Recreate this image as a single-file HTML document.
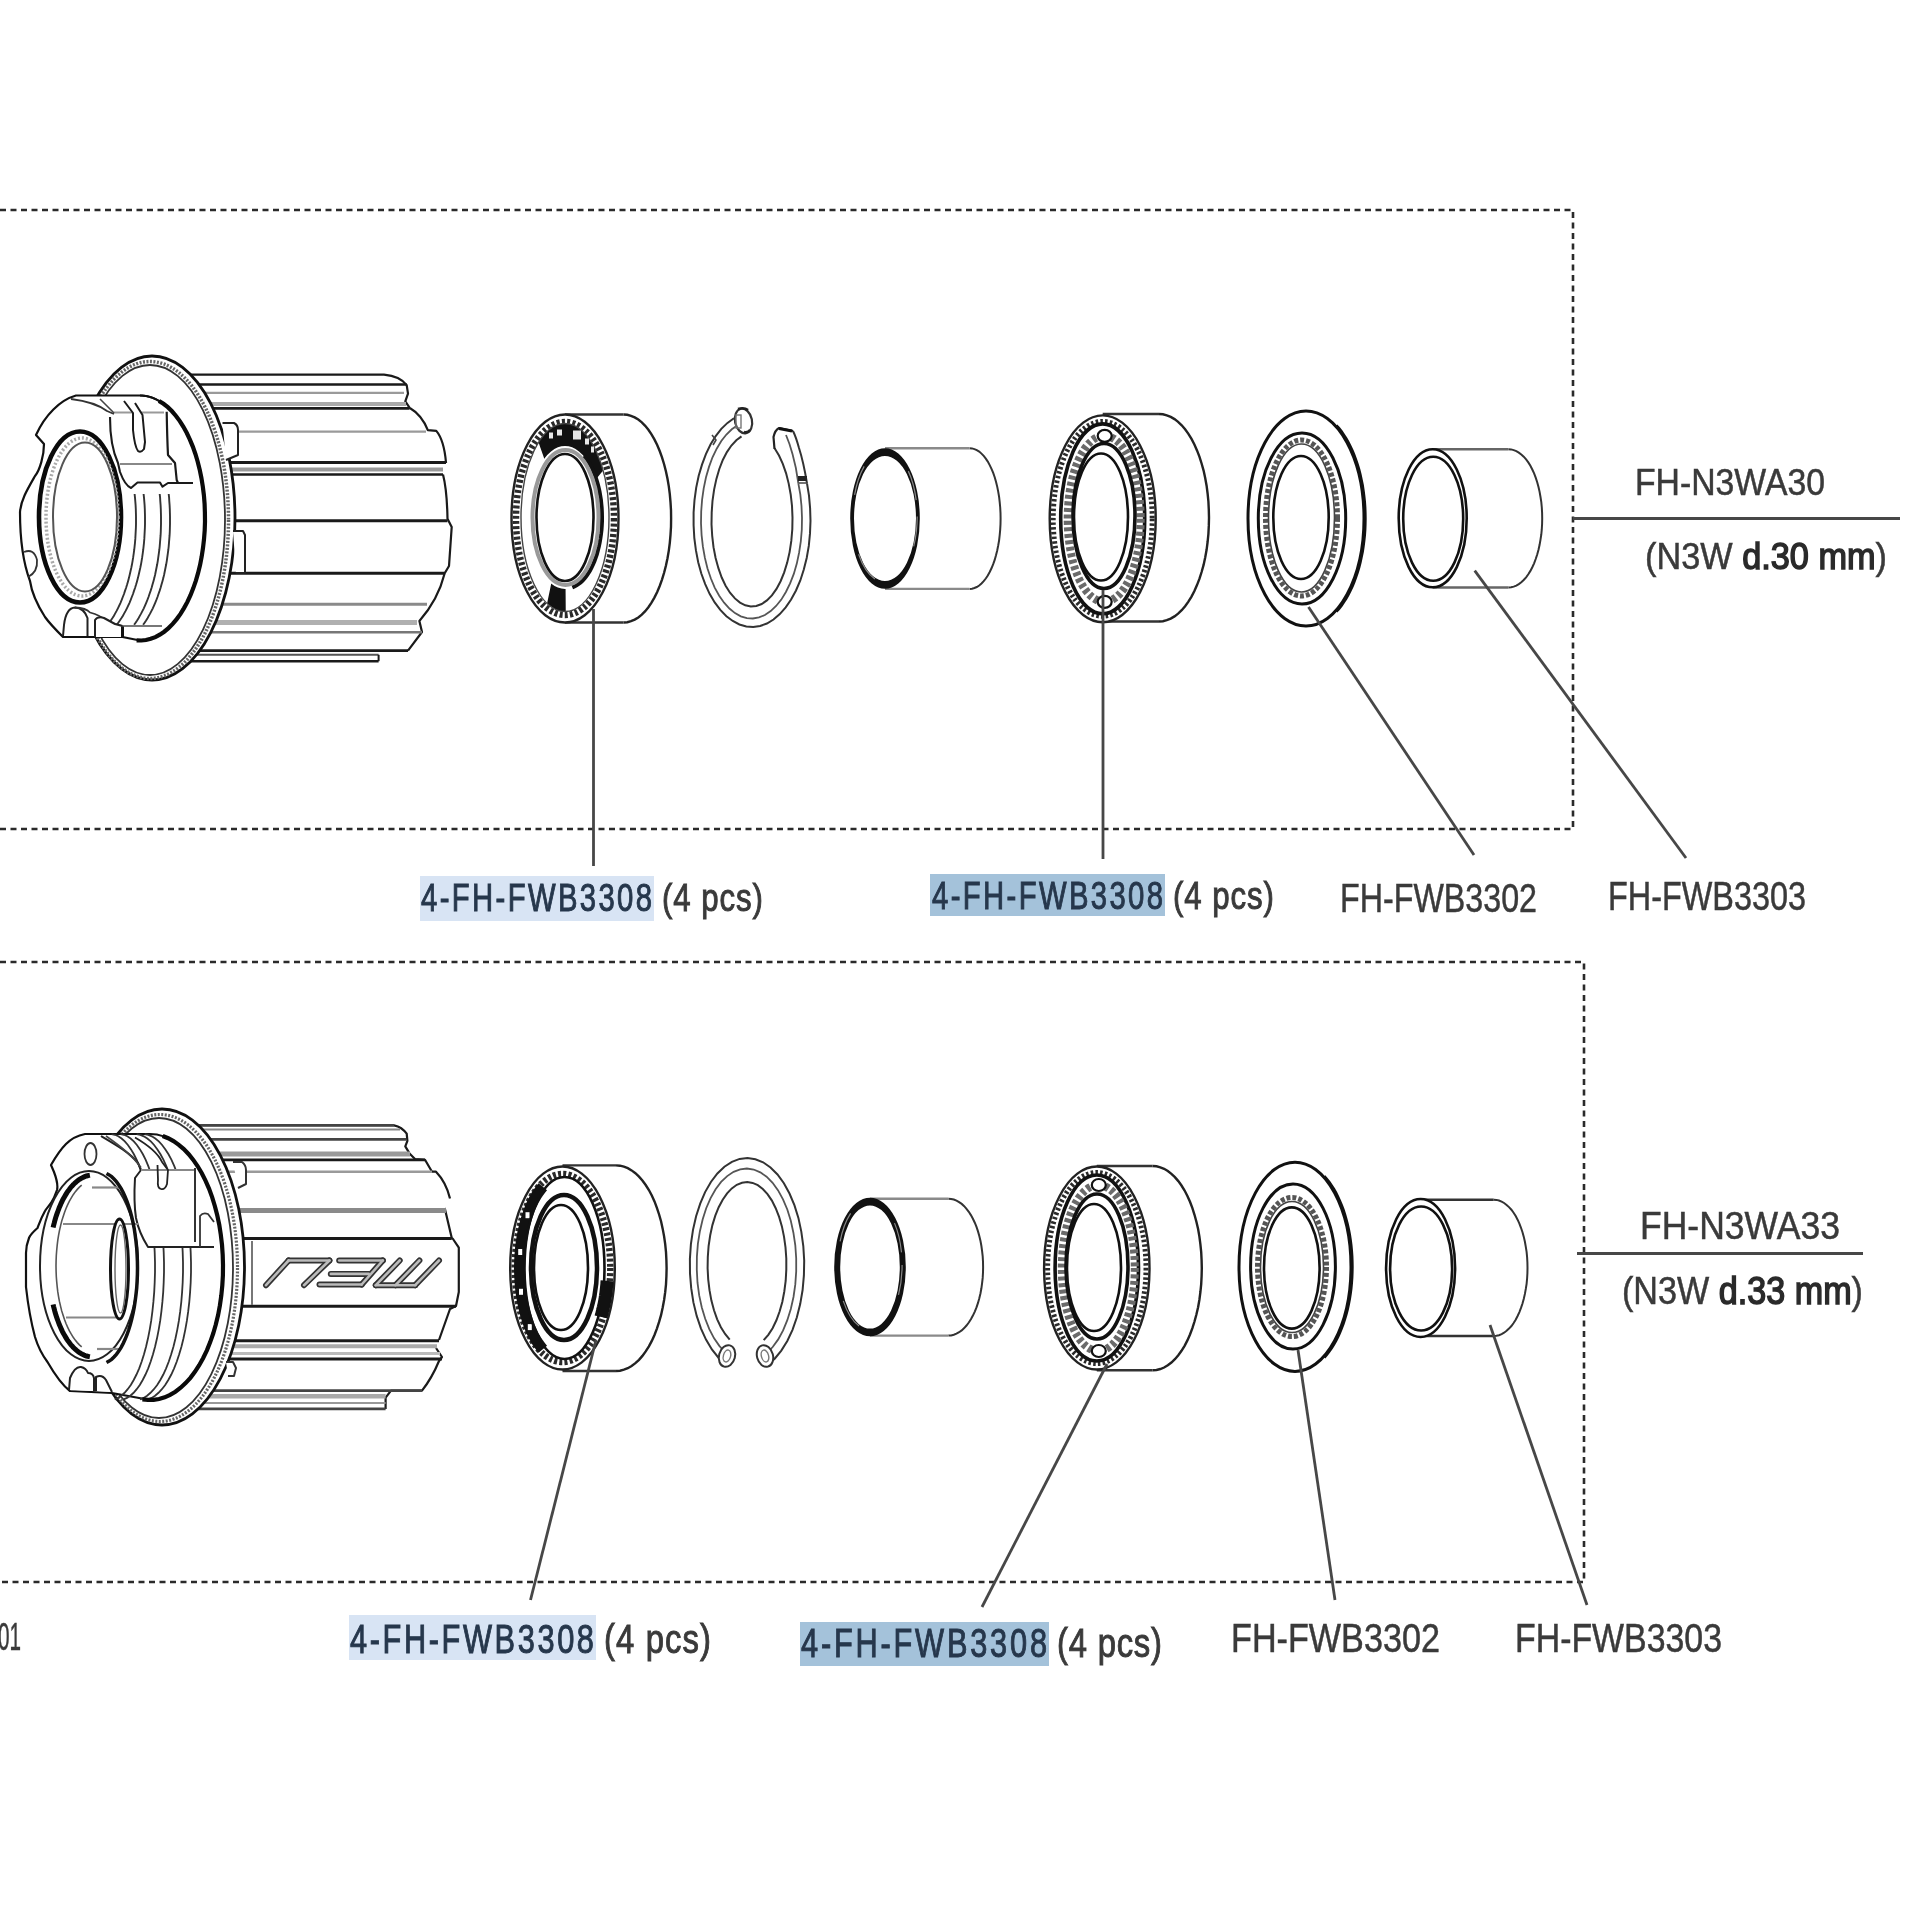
<!DOCTYPE html>
<html><head><meta charset="utf-8"><style>
html,body{margin:0;padding:0;background:#fff;width:1920px;height:1920px;overflow:hidden}
svg{display:block}
#wrap{width:1920px;height:1920px;will-change:transform}
text{font-family:"Liberation Sans",sans-serif}
.t{font-size:39px;fill:#3a3a3a;stroke:#3a3a3a;stroke-width:0.5}
.th{font-size:39px;fill:#26374c;stroke:#26374c;stroke-width:0.5}
.d{stroke-width:1.0}
.b{stroke-width:1.5;fill:#2a2a2a;stroke:#2a2a2a}
.dash{fill:none;stroke:#2a2a2a;stroke-width:2.6;stroke-dasharray:6 4.5}
.ld{fill:none;stroke:#474747;stroke-width:2.8}
.k{fill:none;stroke:#111;stroke-width:2.4}
.kw{fill:#fff;stroke:#111;stroke-width:2.4}
.g{fill:none;stroke:#666;stroke-width:2}
</style></head><body>
<div id="wrap"><svg width="1920" height="1920" viewBox="0 0 1920 1920">
<rect width="1920" height="1920" fill="#fff"/>

<path d="M180,374.6 H384 Q400,376 406.7,385.2 L408,393.6 L405.3,401.3 L409.5,407.7 Q422,415 427.8,430.2 L436.3,430.9 Q444,440 446,462.5 L446,463 M443,474.5 Q447,490 447.5,518.7 L451.7,527 L449,566 L444.7,573.3 Q438,600 419.4,621 L422,632 L408,650.6" fill="none" stroke="#1a1a1a" stroke-width="2.2" stroke-linejoin="round" />
<line x1="180.0" y1="384.5" x2="406.7" y2="384.5" stroke="#1a1a1a" stroke-width="2.6" />
<line x1="180.0" y1="392.9" x2="404.0" y2="392.9" stroke="#9a9a9a" stroke-width="2.2" />
<line x1="180.0" y1="404.0" x2="406.0" y2="404.0" stroke="#aaa" stroke-width="4" />
<line x1="180.0" y1="408.4" x2="409.5" y2="408.4" stroke="#1a1a1a" stroke-width="2.6" />
<line x1="180.0" y1="431.6" x2="426.0" y2="431.6" stroke="#9a9a9a" stroke-width="2.4" />
<line x1="180.0" y1="462.5" x2="446.0" y2="462.5" stroke="#1a1a1a" stroke-width="3" />
<line x1="180.0" y1="469.5" x2="443.0" y2="469.5" stroke="#999" stroke-width="4" />
<line x1="180.0" y1="474.5" x2="443.0" y2="474.5" stroke="#1a1a1a" stroke-width="2.6" />
<line x1="180.0" y1="520.7" x2="447.5" y2="520.7" stroke="#1a1a1a" stroke-width="3" />
<line x1="180.0" y1="573.3" x2="444.7" y2="573.3" stroke="#1a1a1a" stroke-width="3" />
<line x1="180.0" y1="604.2" x2="427.0" y2="604.2" stroke="#8a8a8a" stroke-width="3" />
<line x1="180.0" y1="622.5" x2="417.0" y2="622.5" stroke="#b0b0b0" stroke-width="5" />
<line x1="180.0" y1="632.3" x2="422.0" y2="632.3" stroke="#777" stroke-width="2.4" />
<line x1="180.0" y1="650.6" x2="408.0" y2="650.6" stroke="#1a1a1a" stroke-width="2.6" />
<line x1="180.0" y1="654.8" x2="378.6" y2="654.8" stroke="#555" stroke-width="2" />
<line x1="180.0" y1="661.2" x2="378.6" y2="661.2" stroke="#1a1a1a" stroke-width="2.4" />
<line x1="378.6" y1="654.8" x2="378.6" y2="661.2" stroke="#1a1a1a" stroke-width="2" />
<ellipse cx="152.0" cy="518.0" rx="83.0" ry="162.0" fill="#fff" stroke="#111" stroke-width="2.8" />
<ellipse cx="150.0" cy="520.0" rx="78.5" ry="158.5" fill="none" stroke="#666" stroke-width="3.5" stroke-dasharray="2 1.5"/>
<ellipse cx="150.0" cy="520.0" rx="75.0" ry="155.0" fill="none" stroke="#333" stroke-width="1.8" />
<path d="M222.5,423 L234,423 Q238,425 238,430 L238,455 L226,460" fill="#fff" stroke="#222" stroke-width="2" stroke-linejoin="round" />
<path d="M233,531 L243,531 L245,535 L245,573 L236,573" fill="#fff" stroke="#222" stroke-width="2" stroke-linejoin="round" />
<path d="M76,395.5 H140 A65,122.5 0 0 1 140,640.5 L122.5,637 L63,637 C56,630 50,624 45,617 C38,606 32,595 30,581 C24,565 20,540 20,512 C21,500 27,490 35,476 C40,470 44,455 44,444 L36,435 C45,415 60,400 76,395.5 Z" fill="#fff" stroke="#111" stroke-width="2.2" stroke-linejoin="round" />
<path d="M140.0,395.5 L140.5,395.5 L141.0,395.5 L141.5,395.5 L142.0,395.6 L142.6,395.6 L143.1,395.6 L143.6,395.7 L144.1,395.7 L144.6,395.8 L145.1,395.9 L145.6,396.0 L146.1,396.0 L146.6,396.1 L147.1,396.2 L147.6,396.3 L148.1,396.5 L148.7,396.6 L149.2,396.7 L149.7,396.9 L150.2,397.0 L150.7,397.2 L151.2,397.3 L151.7,397.5 L152.2,397.7 L152.7,397.9 L153.2,398.0 L153.7,398.2 L154.2,398.5 L154.7,398.7 L155.2,398.9 L155.7,399.1 L156.2,399.3 L156.7,399.6 L157.2,399.8 L157.6,400.1 L158.1,400.4 L158.6,400.6 L159.1,400.9 L159.6,401.2 L160.1,401.5" fill="none" stroke="#111" stroke-width="2" />
<path d="M159.0,400.9 L163.5,403.8 L167.8,407.2 L172.0,411.3 L176.0,416.0 L179.8,421.1 L183.4,426.8 L186.8,433.0 L189.9,439.6 L192.8,446.6 L195.4,454.0 L197.7,461.7 L199.7,469.7 L201.4,478.0 L202.8,486.5 L203.9,495.2 L204.6,503.9 L204.9,512.8 L205.0,521.6 L204.7,530.5 L204.0,539.3 L203.0,547.9 L201.7,556.5 L200.1,564.8 L198.1,572.9 L195.9,580.6 L193.3,588.1 L190.5,595.2 L187.4,601.9 L184.0,608.1 L180.5,613.9 L176.7,619.1 L172.7,623.9 L168.5,628.1 L164.2,631.7 L159.8,634.7 L155.3,637.1 L150.7,638.8 L146.0,640.0 L141.3,640.5 L136.6,640.3" fill="none" stroke="#0a0a0a" stroke-width="4.2" />
<path d="M134.6,494.0 L135.0,497.7 L135.3,501.4 L135.6,505.1 L135.8,508.9 L135.9,512.6 L136.0,516.4 L136.0,520.2 L136.0,523.9 L135.9,527.7 L135.7,531.4 L135.5,535.2 L135.3,538.9 L135.0,542.6 L134.6,546.3 L134.2,550.0 L133.7,553.6 L133.2,557.2 L132.6,560.8 L132.0,564.3 L131.3,567.8 L130.5,571.3 L129.7,574.7 L128.9,578.1 L128.0,581.4 L127.1,584.6 L126.1,587.8 L125.0,590.9 L124.0,594.0 L122.8,597.0 L121.7,599.9 L120.5,602.8 L119.2,605.6 L117.9,608.3 L116.6,610.9 L115.2,613.4 L113.8,615.9 L112.3,618.3 L110.8,620.5 L109.3,622.7 L107.8,624.8" fill="none" stroke="#333" stroke-width="1.9" />
<path d="M143.6,494.0 L144.0,497.7 L144.3,501.4 L144.6,505.1 L144.8,508.9 L144.9,512.6 L145.0,516.4 L145.0,520.2 L145.0,523.9 L144.9,527.7 L144.7,531.4 L144.5,535.2 L144.3,538.9 L144.0,542.6 L143.6,546.3 L143.2,550.0 L142.7,553.6 L142.2,557.2 L141.6,560.8 L141.0,564.3 L140.3,567.8 L139.5,571.3 L138.7,574.7 L137.9,578.1 L137.0,581.4 L136.1,584.6 L135.1,587.8 L134.0,590.9 L133.0,594.0 L131.8,597.0 L130.7,599.9 L129.5,602.8 L128.2,605.6 L126.9,608.3 L125.6,610.9 L124.2,613.4 L122.8,615.9 L121.3,618.3 L119.8,620.5 L118.3,622.7 L116.8,624.8" fill="none" stroke="#333" stroke-width="1.9" />
<path d="M159.7,494.0 L160.1,497.7 L160.3,501.4 L160.6,505.1 L160.8,508.9 L160.9,512.6 L161.0,516.4 L161.0,520.2 L161.0,523.9 L160.9,527.7 L160.8,531.4 L160.6,535.2 L160.3,538.9 L160.0,542.6 L159.7,546.3 L159.3,550.0 L158.8,553.6 L158.3,557.2 L157.8,560.8 L157.2,564.3 L156.5,567.8 L155.8,571.3 L155.1,574.7 L154.3,578.1 L153.4,581.4 L152.5,584.6 L151.6,587.8 L150.6,590.9 L149.5,594.0 L148.5,597.0 L147.4,599.9 L146.2,602.8 L145.0,605.6 L143.8,608.3 L142.5,610.9 L141.2,613.4 L139.8,615.9 L138.5,618.3 L137.1,620.5 L135.6,622.7 L134.1,624.8" fill="none" stroke="#333" stroke-width="1.9" />
<path d="M168.7,494.0 L169.1,497.7 L169.3,501.4 L169.6,505.1 L169.8,508.9 L169.9,512.6 L170.0,516.4 L170.0,520.2 L170.0,523.9 L169.9,527.7 L169.8,531.4 L169.6,535.2 L169.3,538.9 L169.0,542.6 L168.7,546.3 L168.3,550.0 L167.8,553.6 L167.3,557.2 L166.8,560.8 L166.2,564.3 L165.5,567.8 L164.8,571.3 L164.1,574.7 L163.3,578.1 L162.4,581.4 L161.5,584.6 L160.6,587.8 L159.6,590.9 L158.5,594.0 L157.5,597.0 L156.4,599.9 L155.2,602.8 L154.0,605.6 L152.8,608.3 L151.5,610.9 L150.2,613.4 L148.8,615.9 L147.5,618.3 L146.1,620.5 L144.6,622.7 L143.1,624.8" fill="none" stroke="#333" stroke-width="1.9" />
<path d="M110,417 C110,435 112,450 118,463 L120,472 C123,480 126,486 131,488 L137.5,482.5 H160 L162.5,486.7 L168,483 H193 L180,470 L174,460 L168,452 L167,412 Z" fill="#fff" stroke="none" stroke-width="0" stroke-linejoin="round" />
<path d="M71,399 Q95,402 107,411 L114,414" fill="none" stroke="#333" stroke-width="1.8" stroke-linejoin="round" />
<path d="M110,417 C110,435 112,450 118,463 L120,472 C123,480 126,486 131,488 L137.5,482.5 H160 L162.5,486.7 L168,483 H193" fill="none" stroke="#1a1a1a" stroke-width="2.1" stroke-linejoin="round" />
<path d="M166.7,411.7 C167,430 167.5,445 168,455 L175,463 L176.7,480 L178,483" fill="none" stroke="#1a1a1a" stroke-width="2.2" stroke-linejoin="round" />
<line x1="114.0" y1="412.5" x2="164.0" y2="412.5" stroke="#999" stroke-width="2" />
<line x1="120.0" y1="464.0" x2="172.0" y2="464.0" stroke="#888" stroke-width="2.2" />
<path d="M100,399 L114,413" fill="none" stroke="#444" stroke-width="1.6" stroke-linejoin="round" />
<path d="M124,401 L133,413 L133,430 C134,440 135,447 138,451 Q141,453 144,449 L145,442 L142.5,415 L135,403" fill="#fff" stroke="#1a1a1a" stroke-width="2" stroke-linejoin="round" />
<path d="M63,636 L64,625 Q66,608 75,607.5 Q84,608 87.5,618 L87.5,636" fill="#fff" stroke="#222" stroke-width="2" stroke-linejoin="round" />
<path d="M75,607.5 Q86,608 90,612.5 Q100,615 108,621.7 L115,624 L122.5,626" fill="none" stroke="#333" stroke-width="1.8" stroke-linejoin="round" />
<path d="M95,637 L95,620 Q98,616 104,618 L115,624 L122.5,626 L122.5,637" fill="#fff" stroke="#222" stroke-width="2" stroke-linejoin="round" />
<line x1="122.5" y1="626.0" x2="162.0" y2="626.0" stroke="#777" stroke-width="1.8" />
<line x1="122.5" y1="626.5" x2="122.5" y2="637.0" stroke="#111" stroke-width="3" />
<path d="M24,552 Q34,548 37,560 Q38,572 28,577" fill="none" stroke="#333" stroke-width="1.8" stroke-linejoin="round" />
<ellipse cx="80.0" cy="517.0" rx="41.0" ry="85.5" fill="#fff" stroke="#0a0a0a" stroke-width="4.6" />
<ellipse cx="82.0" cy="517.0" rx="36.0" ry="79.0" fill="none" stroke="#aaa" stroke-width="3.5" stroke-dasharray="2 2"/>
<ellipse cx="85.0" cy="517.0" rx="32.0" ry="74.5" fill="#fff" stroke="#555" stroke-width="2" />
<path d="M623.6,414.5 L627.3,414.8 L631.0,415.8 L634.7,417.4 L638.3,419.6 L641.8,422.4 L645.2,425.8 L648.4,429.8 L651.5,434.4 L654.4,439.4 L657.2,445.0 L659.7,451.0 L662.0,457.4 L664.1,464.2 L665.9,471.3 L667.5,478.7 L668.8,486.4 L669.8,494.2 L670.5,502.2 L671.0,510.3 L671.1,518.5 L671.0,526.7 L670.5,534.8 L669.8,542.8 L668.8,550.6 L667.5,558.3 L665.9,565.7 L664.1,572.8 L662.0,579.6 L659.7,586.0 L657.2,592.0 L654.4,597.6 L651.5,602.6 L648.4,607.2 L645.2,611.2 L641.8,614.6 L638.3,617.4 L634.7,619.6 L631.0,621.2 L627.3,622.2 L623.6,622.5" fill="none" stroke="#222" stroke-width="2.4" />
<line x1="565.0" y1="414.5" x2="623.6" y2="414.5" stroke="#333" stroke-width="2.4" />
<line x1="565.0" y1="622.5" x2="623.6" y2="622.5" stroke="#333" stroke-width="2.4" />
<ellipse cx="565.0" cy="518.5" rx="53.5" ry="104.0" fill="#fff" stroke="#222" stroke-width="2.4" />
<ellipse cx="565.0" cy="518.5" rx="49.0" ry="96.5" fill="none" stroke="#2a2a2a" stroke-width="6.5" stroke-dasharray="3 2.2"/>
<clipPath id="wc1"><polygon points="565.0,517.5 508.7,357.8 514.1,349.7 519.7,342.4 525.6,336.1 531.7,330.6 538.0,326.0 544.3,322.4 550.8,319.8 557.4,318.2 564.0,317.5 570.6,317.9 577.2,319.2 583.7,321.5 590.1,324.8 596.4,329.1 602.5,334.3 608.5,340.4 614.2,347.4 619.7,355.2 624.9,363.8 629.8,373.2 634.4,383.3 638.7,394.1 642.6,405.5 646.1,417.5"/></clipPath>
<path d="M521.0,517.5 a44,94 0 1 0 88,0 a44,94 0 1 0 -88,0 Z M528.5,517.5 a36.5,71.5 0 1 0 73.0,0 a36.5,71.5 0 1 0 -73.0,0 Z" fill="#111" fill-rule="evenodd" clip-path="url(#wc1)"/>
<clipPath id="wc2"><polygon points="565.0,517.5 566.6,717.5 564.9,717.5 563.2,717.5 561.5,717.4 559.8,717.2 558.1,717.0 556.4,716.7 554.7,716.3 553.1,715.9 551.4,715.4 549.7,714.8 548.0,714.2 546.3,713.5 544.7,712.7 543.0,711.9 541.4,711.0 539.7,710.1 538.1,709.1 536.5,708.0 534.8,706.8 533.2,705.6 531.6,704.4 530.1,703.0 528.5,701.7 526.9,700.2"/></clipPath>
<path d="M521.0,517.5 a44,94 0 1 0 88,0 a44,94 0 1 0 -88,0 Z M528.5,517.5 a36.5,71.5 0 1 0 73.0,0 a36.5,71.5 0 1 0 -73.0,0 Z" fill="#111" fill-rule="evenodd" clip-path="url(#wc2)"/>
<ellipse cx="565.0" cy="517.5" rx="44.0" ry="94.0" fill="none" stroke="#444" stroke-width="1.4" />
<rect x="549.0" y="432.5" width="4" height="6" fill="#fff" opacity="0.9"/>
<rect x="557.0" y="429.5" width="5" height="6" fill="#fff" opacity="0.9"/>
<rect x="573.0" y="430.5" width="8" height="9" fill="#fff" opacity="0.9"/>
<rect x="585.0" y="438.5" width="4" height="6" fill="#fff" opacity="0.9"/>
<rect x="591.0" y="446.5" width="3" height="6" fill="#fff" opacity="0.9"/>
<path d="M584.0,456.0 L585.9,458.3 L587.7,460.8 L589.4,463.5 L591.0,466.4 L592.5,469.5 L594.0,472.8 L595.3,476.3 L596.5,479.9 L597.6,483.6 L598.6,487.5 L599.5,491.5 L600.2,495.6 L600.9,499.7 L601.3,504.0 L601.7,508.2 L601.9,512.5 L602.0,516.9 L602.0,521.2 L601.8,525.5 L601.5,529.8 L601.0,534.1 L600.4,538.3 L599.7,542.4 L598.9,546.4 L597.9,550.3 L596.9,554.1 L595.7,557.7 L594.4,561.2 L593.0,564.5 L591.5,567.7 L589.9,570.7 L588.2,573.4 L586.4,576.0 L584.5,578.4 L582.6,580.5 L580.6,582.4 L578.6,584.0 L576.5,585.4 L574.4,586.5 L572.3,587.4" fill="none" stroke="#111" stroke-width="4" />
<ellipse cx="565.5" cy="517.5" rx="33.0" ry="67.5" fill="none" stroke="#999" stroke-width="4" />
<ellipse cx="565.0" cy="517.5" rx="28.5" ry="63.5" fill="#fff" stroke="#111" stroke-width="2.6" />
<path d="M807.0,483.4 L809.0,495.6 L810.1,508.1 L810.5,520.7 L810.0,533.4 L808.8,545.9 L806.7,558.0 L803.8,569.6 L800.3,580.5 L796.0,590.5 L791.1,599.5 L785.7,607.4 L779.8,614.1 L773.5,619.5 L766.9,623.5 L760.1,626.0 L753.2,627.0 L746.3,626.5 L739.4,624.5 L732.8,621.0 L726.4,616.2 L720.3,609.9 L714.7,602.4 L709.6,593.8 L705.2,584.1 L701.3,573.5 L698.2,562.2 L695.9,550.2 L694.3,537.8 L693.6,525.2 L693.6,512.5 L694.5,500.0 L696.2,487.6 L698.7,475.8 L702.0,464.6 L705.9,454.1 L710.5,444.6 L715.7,436.1 L721.3,428.9 L727.5,422.9 L733.9,418.2" fill="none" stroke="#333" stroke-width="2.0" />
<path d="M807,483.4 Q803.5,462 799,448 Q796,437 793,431" fill="none" stroke="#333" stroke-width="2.0" stroke-linejoin="round" />
<path d="M798.3,483.1 L800.3,494.3 L801.5,506.0 L802.0,517.8 L801.8,529.6 L800.8,541.3 L799.1,552.7 L796.8,563.6 L793.8,573.9 L790.1,583.4 L785.9,592.0 L781.3,599.6 L776.1,606.0 L770.7,611.1 L764.9,615.0 L759.0,617.4 L752.9,618.5 L746.8,618.1 L740.8,616.3 L735.0,613.1 L729.4,608.5 L724.1,602.7 L719.2,595.7 L714.7,587.6 L710.9,578.5 L707.5,568.5 L704.9,557.9 L702.9,546.7 L701.6,535.1 L701.0,523.3 L701.2,511.4 L702.1,499.7 L703.7,488.3 L706.0,477.3 L709.0,466.9 L712.5,457.3 L716.7,448.7 L721.3,441.0 L726.4,434.5 L731.8,429.3 L737.6,425.3" fill="none" stroke="#555" stroke-width="1.8" />
<path d="M798.3,483.1 Q796.5,468 792.5,454 Q789.5,443 786,435" fill="none" stroke="#555" stroke-width="1.8" stroke-linejoin="round" />
<path d="M774.6,448.3 L779.0,455.5 L782.8,463.9 L786.1,473.3 L788.7,483.6 L790.7,494.5 L792.0,505.9 L792.5,517.6 L792.3,529.3 L791.3,540.9 L789.6,552.1 L787.2,562.6 L784.2,572.4 L780.6,581.2 L776.5,588.9 L771.9,595.4 L766.9,600.4 L761.7,604.0 L756.3,606.0 L750.8,606.5 L745.3,605.3 L740.0,602.6 L734.9,598.4 L730.0,592.7 L725.6,585.7 L721.7,577.5 L718.4,568.2 L715.6,558.0 L713.5,547.2 L712.2,535.8 L711.5,524.2 L711.7,512.4 L712.5,500.8 L714.1,489.6 L716.4,478.9 L719.3,469.0 L722.8,460.0 L726.9,452.1 L731.4,445.5 L736.3,440.2 L741.5,436.4" fill="none" stroke="#333" stroke-width="2.0" />
<path d="M774.5,449 L773.5,437 Q775,430 779,428 L793,431" fill="none" stroke="#222" stroke-width="2.2" stroke-linejoin="round" />
<path d="M779,428.5 L792,431" fill="none" stroke="#111" stroke-width="3" stroke-linejoin="round" />
<rect x="798" y="476" width="9" height="5" fill="#222"/>
<line x1="799.0" y1="483.0" x2="807.0" y2="483.0" stroke="#444" stroke-width="1.5" />
<ellipse cx="743.5" cy="421" rx="8.5" ry="12.5" transform="rotate(-12 743.5 421)" fill="#fff" stroke="#333" stroke-width="2.2"/>
<rect x="736" y="415" width="5" height="13" fill="none" stroke="#777" stroke-width="1.4"/>
<path d="M738,409 Q744,407 748,410" fill="none" stroke="#222" stroke-width="2.5" stroke-linejoin="round" />
<path d="M744,432 Q748,433 750,430" fill="none" stroke="#222" stroke-width="2.5" stroke-linejoin="round" />
<path d="M712,435 L716,440 L713,445" fill="none" stroke="#444" stroke-width="1.6" stroke-linejoin="round" />
<path d="M969.6,448.2 L972.0,448.4 L974.4,449.1 L976.8,450.1 L979.2,451.6 L981.5,453.6 L983.7,455.9 L985.8,458.6 L987.8,461.6 L989.7,465.1 L991.5,468.8 L993.2,472.9 L994.7,477.2 L996.0,481.8 L997.2,486.6 L998.2,491.6 L999.1,496.8 L999.7,502.1 L1000.2,507.5 L1000.5,513.0 L1000.6,518.5 L1000.5,524.1 L1000.2,529.6 L999.7,535.0 L999.1,540.3 L998.2,545.5 L997.2,550.5 L996.0,555.3 L994.7,559.9 L993.2,564.2 L991.5,568.3 L989.7,572.0 L987.8,575.5 L985.8,578.5 L983.7,581.2 L981.5,583.5 L979.2,585.5 L976.8,587.0 L974.4,588.0 L972.0,588.7 L969.6,588.9" fill="none" stroke="#333" stroke-width="2.0" />
<line x1="885.0" y1="448.2" x2="969.6" y2="448.2" stroke="#8a8a8a" stroke-width="2.4" />
<line x1="885.0" y1="588.9" x2="969.6" y2="588.9" stroke="#8a8a8a" stroke-width="2.4" />
<ellipse cx="885.0" cy="518.5" rx="34.0" ry="69.5" fill="#fff" stroke="none" stroke-width="0" />
<path d="M850.2,518.5 a34.8,70.3 0 1 0 69.6,0 a34.8,70.3 0 1 0 -69.6,0 Z M854.0,518.5 a31.0,62.5 0 1 0 62.0,0 a31.0,62.5 0 1 0 -62.0,0 Z" fill="#111" fill-rule="evenodd" />
<ellipse cx="885.0" cy="516.5" rx="32.2" ry="65.8" fill="none" stroke="#888" stroke-width="1.2" stroke-dasharray="30 60"/>
<path d="M1159.0,414.0 L1162.9,414.3 L1166.8,415.3 L1170.7,416.9 L1174.5,419.1 L1178.1,421.9 L1181.7,425.3 L1185.1,429.3 L1188.4,433.8 L1191.5,438.9 L1194.4,444.4 L1197.0,450.4 L1199.5,456.8 L1201.6,463.5 L1203.6,470.6 L1205.2,478.0 L1206.6,485.7 L1207.6,493.5 L1208.4,501.5 L1208.8,509.6 L1209.0,517.8 L1208.8,525.9 L1208.4,534.0 L1207.6,542.0 L1206.6,549.8 L1205.2,557.5 L1203.6,564.9 L1201.6,572.0 L1199.5,578.7 L1197.0,585.1 L1194.4,591.1 L1191.5,596.6 L1188.4,601.7 L1185.1,606.2 L1181.7,610.2 L1178.1,613.6 L1174.5,616.4 L1170.7,618.6 L1166.8,620.2 L1162.9,621.2 L1159.0,621.5" fill="none" stroke="#222" stroke-width="2.4" />
<line x1="1102.7" y1="414.0" x2="1159.0" y2="414.0" stroke="#333" stroke-width="2.4" />
<line x1="1102.7" y1="621.5" x2="1159.0" y2="621.5" stroke="#333" stroke-width="2.4" />
<ellipse cx="1102.7" cy="518.8" rx="53.0" ry="103.4" fill="#fff" stroke="#222" stroke-width="2.4" />
<ellipse cx="1102.7" cy="518.8" rx="49.5" ry="97.4" fill="none" stroke="#2a2a2a" stroke-width="5" stroke-dasharray="2.5 2.2"/>
<ellipse cx="1102.7" cy="518.8" rx="42.0" ry="94.9" fill="none" stroke="#111" stroke-width="3.6" />
<ellipse cx="1104.2" cy="518.8" rx="36.5" ry="83.0" fill="none" stroke="#6a6a6a" stroke-width="8" stroke-dasharray="4 2.5"/>
<ellipse cx="1104.7" cy="435.8" rx="7" ry="6" fill="#fff" stroke="#111" stroke-width="2.2"/>
<ellipse cx="1104.7" cy="601.8" rx="7" ry="6" fill="#fff" stroke="#111" stroke-width="2.2"/>
<ellipse cx="1104.0" cy="516.0" rx="31.0" ry="72.5" fill="none" stroke="#111" stroke-width="3.6" />
<ellipse cx="1101.0" cy="517.0" rx="27.0" ry="63.5" fill="#fff" stroke="#111" stroke-width="2.6" />
<ellipse cx="1306.0" cy="518.5" rx="58.0" ry="107.5" fill="#fff" stroke="#111" stroke-width="3" />
<path d="M1336.2,425.4 L1338.8,428.3 L1341.3,431.5 L1343.7,435.0 L1346.0,438.6 L1348.2,442.5 L1350.3,446.6 L1352.3,450.8 L1354.1,455.3 L1355.8,460.0 L1357.4,464.8 L1358.9,469.7 L1360.2,474.8 L1361.3,480.0 L1362.4,485.3 L1363.2,490.7 L1363.9,496.1 L1364.5,501.7 L1364.9,507.3 L1365.1,512.9 L1365.2,518.5 L1365.1,524.1 L1364.9,529.7 L1364.5,535.3 L1363.9,540.9 L1363.2,546.3 L1362.4,551.7 L1361.3,557.0 L1360.2,562.2 L1358.9,567.3 L1357.4,572.2 L1355.8,577.0 L1354.1,581.7 L1352.3,586.2 L1350.3,590.4 L1348.2,594.5 L1346.0,598.4 L1343.7,602.0 L1341.3,605.5 L1338.8,608.7 L1336.2,611.6" fill="none" stroke="#111" stroke-width="3" />
<ellipse cx="1302.0" cy="518.5" rx="43.7" ry="85.5" fill="none" stroke="#111" stroke-width="3" />
<ellipse cx="1301.5" cy="518.0" rx="36.0" ry="78.0" fill="none" stroke="#555" stroke-width="5" stroke-dasharray="4 2"/>
<ellipse cx="1301.5" cy="518.0" rx="33.0" ry="74.0" fill="none" stroke="#444" stroke-width="1.6" />
<ellipse cx="1301.0" cy="517.5" rx="27.7" ry="61.5" fill="none" stroke="#111" stroke-width="2.6" />
<path d="M1508.4,449.2 L1511.1,449.4 L1513.7,450.1 L1516.3,451.1 L1518.8,452.6 L1521.3,454.5 L1523.7,456.7 L1526.1,459.4 L1528.3,462.4 L1530.4,465.8 L1532.3,469.5 L1534.1,473.4 L1535.7,477.7 L1537.2,482.2 L1538.5,487.0 L1539.6,491.9 L1540.5,497.0 L1541.3,502.2 L1541.8,507.5 L1542.1,512.9 L1542.2,518.4 L1542.1,523.8 L1541.8,529.2 L1541.3,534.5 L1540.5,539.7 L1539.6,544.8 L1538.5,549.7 L1537.2,554.5 L1535.7,559.0 L1534.1,563.3 L1532.3,567.2 L1530.4,570.9 L1528.3,574.3 L1526.1,577.3 L1523.7,580.0 L1521.3,582.2 L1518.8,584.1 L1516.3,585.6 L1513.7,586.6 L1511.1,587.3 L1508.4,587.5" fill="none" stroke="#333" stroke-width="2.0" />
<line x1="1432.7" y1="449.2" x2="1508.4" y2="449.2" stroke="#666" stroke-width="2.4" />
<line x1="1432.7" y1="587.5" x2="1508.4" y2="587.5" stroke="#666" stroke-width="2.4" />
<ellipse cx="1432.7" cy="518.3" rx="34.0" ry="69.0" fill="#fff" stroke="none" stroke-width="0" />
<ellipse cx="1432.7" cy="518.3" rx="34.0" ry="69.0" fill="none" stroke="#111" stroke-width="2.6" />
<ellipse cx="1433.2" cy="518.8" rx="30.0" ry="62.0" fill="none" stroke="#111" stroke-width="2.6" />
<path d="M180,1125.3 H394 Q402,1127 406.7,1133.7 L407.4,1140.8 L405.3,1146.4 L409.5,1153.4 L415,1159 L425,1159.8 L432,1171.7 L436,1171.7 Q446,1182 450,1198.4 M444.7,1208 L451.7,1237.8 L453,1239 L458.8,1247.7 L458.8,1292 L456,1306 L450,1309 L439,1340 M436,1348 L442,1357 L439,1361 Q432,1378 422,1390.6 L391,1390.6 L385.6,1397.7 L385.6,1409" fill="none" stroke="#1a1a1a" stroke-width="2.2" stroke-linejoin="round" />
<line x1="180.0" y1="1125.3" x2="394.0" y2="1125.3" stroke="#444" stroke-width="2.4" />
<line x1="180.0" y1="1129.5" x2="400.0" y2="1129.5" stroke="#888" stroke-width="2.2" />
<line x1="180.0" y1="1139.4" x2="406.0" y2="1139.4" stroke="#444" stroke-width="2.6" />
<line x1="180.0" y1="1154.0" x2="410.0" y2="1154.0" stroke="#9a9a9a" stroke-width="5" />
<line x1="180.0" y1="1159.8" x2="425.0" y2="1159.8" stroke="#1a1a1a" stroke-width="2.8" />
<line x1="180.0" y1="1171.7" x2="432.0" y2="1171.7" stroke="#9a9a9a" stroke-width="2.4" />
<line x1="180.0" y1="1210.4" x2="446.0" y2="1210.4" stroke="#8a8a8a" stroke-width="5" />
<line x1="180.0" y1="1238.5" x2="451.7" y2="1238.5" stroke="#1a1a1a" stroke-width="2.8" />
<line x1="180.0" y1="1306.3" x2="456.0" y2="1306.3" stroke="#1a1a1a" stroke-width="3" />
<line x1="180.0" y1="1340.7" x2="439.0" y2="1340.7" stroke="#1a1a1a" stroke-width="3" />
<line x1="180.0" y1="1346.3" x2="437.0" y2="1346.3" stroke="#aaa" stroke-width="4" />
<line x1="180.0" y1="1353.4" x2="440.0" y2="1353.4" stroke="#bbb" stroke-width="3" />
<line x1="180.0" y1="1359.0" x2="442.0" y2="1359.0" stroke="#1a1a1a" stroke-width="2.8" />
<line x1="180.0" y1="1390.6" x2="422.0" y2="1390.6" stroke="#444" stroke-width="2.6" />
<line x1="180.0" y1="1396.3" x2="385.6" y2="1396.3" stroke="#aaa" stroke-width="4.5" />
<line x1="180.0" y1="1403.0" x2="385.6" y2="1403.0" stroke="#999" stroke-width="2" />
<line x1="180.0" y1="1408.9" x2="385.6" y2="1408.9" stroke="#444" stroke-width="2.6" />
<line x1="252.0" y1="1241.0" x2="252.0" y2="1305.0" stroke="#777" stroke-width="2" />
<line x1="266.0" y1="1285.2" x2="288.6" y2="1260.5" stroke="#333" stroke-width="6" stroke-linecap="round"/>
<line x1="288.6" y1="1260.5" x2="329.4" y2="1260.5" stroke="#333" stroke-width="6" stroke-linecap="round"/>
<line x1="329.4" y1="1260.5" x2="304.0" y2="1285.2" stroke="#333" stroke-width="6" stroke-linecap="round"/>
<line x1="339.2" y1="1260.5" x2="382.8" y2="1260.5" stroke="#333" stroke-width="6" stroke-linecap="round"/>
<line x1="330.8" y1="1273.9" x2="368.8" y2="1273.9" stroke="#333" stroke-width="6" stroke-linecap="round"/>
<line x1="319.5" y1="1284.5" x2="361.7" y2="1284.5" stroke="#333" stroke-width="6" stroke-linecap="round"/>
<line x1="382.8" y1="1260.5" x2="361.7" y2="1284.5" stroke="#333" stroke-width="6" stroke-linecap="round"/>
<line x1="375.8" y1="1285.2" x2="399.7" y2="1260.5" stroke="#333" stroke-width="6" stroke-linecap="round"/>
<line x1="395.5" y1="1285.2" x2="419.4" y2="1260.5" stroke="#333" stroke-width="6" stroke-linecap="round"/>
<line x1="415.2" y1="1285.2" x2="439.0" y2="1260.5" stroke="#333" stroke-width="6" stroke-linecap="round"/>
<line x1="375.8" y1="1285.2" x2="415.2" y2="1285.2" stroke="#333" stroke-width="6" stroke-linecap="round"/>
<line x1="266.0" y1="1285.2" x2="288.6" y2="1260.5" stroke="#bbb" stroke-width="2.6" stroke-linecap="round"/>
<line x1="288.6" y1="1260.5" x2="329.4" y2="1260.5" stroke="#bbb" stroke-width="2.6" stroke-linecap="round"/>
<line x1="329.4" y1="1260.5" x2="304.0" y2="1285.2" stroke="#bbb" stroke-width="2.6" stroke-linecap="round"/>
<line x1="339.2" y1="1260.5" x2="382.8" y2="1260.5" stroke="#bbb" stroke-width="2.6" stroke-linecap="round"/>
<line x1="330.8" y1="1273.9" x2="368.8" y2="1273.9" stroke="#bbb" stroke-width="2.6" stroke-linecap="round"/>
<line x1="319.5" y1="1284.5" x2="361.7" y2="1284.5" stroke="#bbb" stroke-width="2.6" stroke-linecap="round"/>
<line x1="382.8" y1="1260.5" x2="361.7" y2="1284.5" stroke="#bbb" stroke-width="2.6" stroke-linecap="round"/>
<line x1="375.8" y1="1285.2" x2="399.7" y2="1260.5" stroke="#bbb" stroke-width="2.6" stroke-linecap="round"/>
<line x1="395.5" y1="1285.2" x2="419.4" y2="1260.5" stroke="#bbb" stroke-width="2.6" stroke-linecap="round"/>
<line x1="415.2" y1="1285.2" x2="439.0" y2="1260.5" stroke="#bbb" stroke-width="2.6" stroke-linecap="round"/>
<line x1="375.8" y1="1285.2" x2="415.2" y2="1285.2" stroke="#bbb" stroke-width="2.6" stroke-linecap="round"/>
<ellipse cx="162.0" cy="1267.0" rx="82.5" ry="158.0" fill="#fff" stroke="#111" stroke-width="2.8" />
<ellipse cx="160.0" cy="1268.0" rx="77.5" ry="153.5" fill="none" stroke="#666" stroke-width="3.2" stroke-dasharray="2 1.5"/>
<ellipse cx="159.0" cy="1268.0" rx="74.0" ry="150.0" fill="none" stroke="#333" stroke-width="1.8" />
<path d="M233,1162 L242,1162 Q246,1165 246,1170 L246,1184 L238,1188" fill="#fff" stroke="#333" stroke-width="2" stroke-linejoin="round" />
<path d="M226,1362 L233,1362 L236,1368 L234,1376 L228,1376" fill="#fff" stroke="#333" stroke-width="2" stroke-linejoin="round" />
<path d="M85,1134 H150 A73,133 0 0 1 150,1400 L112,1393 L70,1391 C62,1385 55,1375 47.5,1362 C43,1356 39,1350 35,1337 C31,1322 28,1305 26,1287 L26,1253 C26,1248 27,1243 29,1238 C30,1235 33,1232 37.5,1228 C39,1224 41,1218 45,1211 C46,1209 48,1207 51,1203 C53,1200 55,1196 57,1190 C58,1186 57,1180 54,1172 L51,1165 C55,1158 60,1150 66,1144 C70,1140 75,1136 85,1134 Z" fill="#fff" stroke="#111" stroke-width="2.2" stroke-linejoin="round" />
<path d="M111.6,1134.1 L114.9,1134.8 L118.3,1136.3 L121.6,1138.5 L124.8,1141.4 L127.9,1145.0 L131.0,1149.4 L133.9,1154.3 L136.7,1159.9 L139.3,1166.2 L141.8,1173.0 L144.1,1180.3 L146.2,1188.1 L148.1,1196.3 L149.8,1205.0 L151.3,1214.0 L152.5,1223.3 L153.5,1232.8 L154.2,1242.5 L154.7,1252.4 L155.0,1262.4 L155.0,1272.3 L154.7,1282.3 L154.2,1292.1 L153.4,1301.9 L152.4,1311.4 L151.2,1320.7 L149.7,1329.6 L148.0,1338.3 L146.1,1346.5 L144.0,1354.3 L141.7,1361.5 L139.2,1368.3 L136.5,1374.5 L133.7,1380.0 L130.8,1385.0 L127.7,1389.2 L124.6,1392.8 L121.3,1395.7 L118.0,1397.9 L114.7,1399.3" fill="none" stroke="#333" stroke-width="1.8" />
<path d="M120.6,1134.1 L123.9,1134.8 L127.3,1136.3 L130.6,1138.5 L133.8,1141.4 L136.9,1145.0 L140.0,1149.4 L142.9,1154.3 L145.7,1159.9 L148.3,1166.2 L150.8,1173.0 L153.1,1180.3 L155.2,1188.1 L157.1,1196.3 L158.8,1205.0 L160.3,1214.0 L161.5,1223.3 L162.5,1232.8 L163.2,1242.5 L163.7,1252.4 L164.0,1262.4 L164.0,1272.3 L163.7,1282.3 L163.2,1292.1 L162.4,1301.9 L161.4,1311.4 L160.2,1320.7 L158.7,1329.6 L157.0,1338.3 L155.1,1346.5 L153.0,1354.3 L150.7,1361.5 L148.2,1368.3 L145.5,1374.5 L142.7,1380.0 L139.8,1385.0 L136.7,1389.2 L133.6,1392.8 L130.3,1395.7 L127.0,1397.9 L123.7,1399.3" fill="none" stroke="#333" stroke-width="1.8" />
<path d="M136.7,1134.1 L140.3,1134.8 L143.8,1136.3 L147.3,1138.5 L150.8,1141.4 L154.1,1145.0 L157.4,1149.4 L160.5,1154.3 L163.5,1159.9 L166.3,1166.2 L168.9,1173.0 L171.4,1180.3 L173.6,1188.1 L175.7,1196.3 L177.5,1205.0 L179.0,1214.0 L180.3,1223.3 L181.4,1232.8 L182.2,1242.5 L182.7,1252.4 L183.0,1262.4 L183.0,1272.3 L182.7,1282.3 L182.1,1292.1 L181.3,1301.9 L180.2,1311.4 L178.9,1320.7 L177.3,1329.6 L175.5,1338.3 L173.5,1346.5 L171.2,1354.3 L168.8,1361.5 L166.1,1368.3 L163.3,1374.5 L160.3,1380.0 L157.2,1385.0 L153.9,1389.2 L150.5,1392.8 L147.1,1395.7 L143.6,1397.9 L140.0,1399.3" fill="none" stroke="#333" stroke-width="1.8" />
<path d="M144.7,1134.1 L148.3,1134.8 L151.8,1136.3 L155.3,1138.5 L158.8,1141.4 L162.1,1145.0 L165.4,1149.4 L168.5,1154.3 L171.5,1159.9 L174.3,1166.2 L176.9,1173.0 L179.4,1180.3 L181.6,1188.1 L183.7,1196.3 L185.5,1205.0 L187.0,1214.0 L188.3,1223.3 L189.4,1232.8 L190.2,1242.5 L190.7,1252.4 L191.0,1262.4 L191.0,1272.3 L190.7,1282.3 L190.1,1292.1 L189.3,1301.9 L188.2,1311.4 L186.9,1320.7 L185.3,1329.6 L183.5,1338.3 L181.5,1346.5 L179.2,1354.3 L176.8,1361.5 L174.1,1368.3 L171.3,1374.5 L168.3,1380.0 L165.2,1385.0 L161.9,1389.2 L158.5,1392.8 L155.1,1395.7 L151.6,1397.9 L148.0,1399.3" fill="none" stroke="#333" stroke-width="1.8" />
<path d="M141,1170 L200,1170 L213,1200 L222,1247 L148,1247 C141,1236 138,1228 136,1218 C134,1205 134,1195 135,1178 Z" fill="#fff" stroke="none" stroke-width="0" stroke-linejoin="round" />
<path d="M101,1136 C118,1146 130,1153 138,1163 L141,1170 L135,1178 C134,1195 134,1205 136,1218 C138,1228 141,1236 148,1247 L214,1247" fill="none" stroke="#222" stroke-width="2" stroke-linejoin="round" />
<line x1="141.0" y1="1170.0" x2="195.0" y2="1170.0" stroke="#888" stroke-width="2" />
<line x1="195.0" y1="1168.0" x2="195.0" y2="1242.0" stroke="#333" stroke-width="2" />
<path d="M200,1247 L200,1216 Q203,1212 208,1214 L214,1222" fill="none" stroke="#333" stroke-width="1.8" stroke-linejoin="round" />
<path d="M106,1136 C120,1146 132,1155 141,1167.5" fill="none" stroke="#444" stroke-width="1.6" stroke-linejoin="round" />
<path d="M135,1137.5 C148,1145 158,1153 162,1162 L168,1170 L167,1184 Q165,1190 161,1189 Q157,1188 158,1180 L157.5,1165" fill="none" stroke="#222" stroke-width="1.8" stroke-linejoin="round" />
<ellipse cx="90.5" cy="1154.0" rx="6.0" ry="11.0" fill="#fff" stroke="#333" stroke-width="1.8" />
<path d="M162.7,1136.0 L168.2,1138.2 L173.5,1141.1 L178.8,1144.8 L183.8,1149.1 L188.7,1154.2 L193.3,1159.9 L197.7,1166.3 L201.8,1173.3 L205.6,1180.8 L209.1,1188.8 L212.2,1197.3 L214.9,1206.2 L217.3,1215.5 L219.3,1225.0 L220.8,1234.8 L222.0,1244.8 L222.7,1254.9 L223.0,1265.1 L222.9,1275.4 L222.3,1285.5 L221.3,1295.6 L219.9,1305.4 L218.1,1315.1 L215.8,1324.5 L213.2,1333.5 L210.2,1342.1 L206.9,1350.3 L203.2,1358.0 L199.2,1365.2 L194.9,1371.8 L190.4,1377.8 L185.6,1383.1 L180.6,1387.7 L175.4,1391.7 L170.1,1394.8 L164.7,1397.3 L159.1,1399.0 L153.6,1399.8 L148.0,1399.9 L142.4,1399.3" fill="none" stroke="#0a0a0a" stroke-width="4.2" />
<path d="M69,1390 L70,1378 Q75,1366 81,1367 Q86,1368 88,1373 Q93,1373 94,1378 L94,1391" fill="#fff" stroke="#222" stroke-width="2" stroke-linejoin="round" />
<path d="M96,1391 L96,1377 Q102,1374 106,1380 L112,1392" fill="#fff" stroke="#222" stroke-width="2" stroke-linejoin="round" />
<ellipse cx="89.0" cy="1266.0" rx="49.0" ry="95.0" fill="#fff" stroke="#222" stroke-width="2" />
<path d="M53.1,1227.5 L53.6,1225.4 L54.2,1223.2 L54.7,1221.1 L55.3,1219.0 L55.9,1216.9 L56.6,1214.9 L57.3,1212.9 L58.0,1211.0 L58.7,1209.1 L59.4,1207.2 L60.2,1205.4 L61.0,1203.6 L61.8,1201.9 L62.6,1200.2 L63.5,1198.5 L64.4,1196.9 L65.3,1195.4 L66.2,1193.9 L67.1,1192.4 L68.1,1191.0 L69.1,1189.7 L70.0,1188.4 L71.0,1187.1 L72.1,1186.0 L73.1,1184.8 L74.2,1183.8 L75.2,1182.8 L76.3,1181.8 L77.4,1180.9 L78.5,1180.1 L79.6,1179.3 L80.7,1178.6 L81.9,1178.0 L83.0,1177.4 L84.1,1176.9 L85.3,1176.4 L86.4,1176.0 L87.6,1175.7 L88.8,1175.4 L89.9,1175.2" fill="none" stroke="#0a0a0a" stroke-width="5" />
<path d="M89.9,1356.8 L88.8,1356.6 L87.6,1356.3 L86.4,1356.0 L85.3,1355.6 L84.1,1355.1 L83.0,1354.6 L81.9,1354.0 L80.7,1353.4 L79.6,1352.7 L78.5,1351.9 L77.4,1351.1 L76.3,1350.2 L75.2,1349.2 L74.2,1348.2 L73.1,1347.2 L72.1,1346.0 L71.0,1344.9 L70.0,1343.6 L69.1,1342.3 L68.1,1341.0 L67.1,1339.6 L66.2,1338.1 L65.3,1336.6 L64.4,1335.1 L63.5,1333.5 L62.6,1331.8 L61.8,1330.1 L61.0,1328.4 L60.2,1326.6 L59.4,1324.8 L58.7,1322.9 L58.0,1321.0 L57.3,1319.1 L56.6,1317.1 L55.9,1315.1 L55.3,1313.0 L54.7,1310.9 L54.2,1308.8 L53.6,1306.6 L53.1,1304.5" fill="none" stroke="#0a0a0a" stroke-width="5" />
<path d="M81.7,1346.8 L79.4,1344.9 L77.3,1342.6 L75.2,1340.1 L73.2,1337.3 L71.3,1334.2 L69.4,1330.9 L67.7,1327.3 L66.0,1323.5 L64.5,1319.5 L63.1,1315.3 L61.7,1310.9 L60.6,1306.4 L59.5,1301.7 L58.6,1296.8 L57.8,1291.9 L57.2,1286.8 L56.7,1281.7 L56.3,1276.5 L56.1,1271.3 L56.0,1266.0 L56.1,1260.7 L56.3,1255.5 L56.7,1250.3 L57.2,1245.2 L57.8,1240.1 L58.6,1235.2 L59.5,1230.3 L60.6,1225.6 L61.7,1221.1 L63.1,1216.7 L64.5,1212.5 L66.0,1208.5 L67.7,1204.7 L69.4,1201.1 L71.3,1197.8 L73.2,1194.7 L75.2,1191.9 L77.3,1189.4 L79.4,1187.1 L81.7,1185.2" fill="none" stroke="#555" stroke-width="1.6" />
<line x1="92.0" y1="1187.5" x2="119.0" y2="1187.5" stroke="#888" stroke-width="2.2" />
<line x1="63.0" y1="1224.0" x2="138.0" y2="1224.0" stroke="#888" stroke-width="2.2" />
<line x1="66.0" y1="1317.5" x2="116.0" y2="1317.5" stroke="#888" stroke-width="2.2" />
<line x1="97.0" y1="1349.0" x2="119.0" y2="1349.0" stroke="#888" stroke-width="2.2" />
<path d="M106.5,1173.5 L109.1,1174.9 L111.6,1176.7 L114.0,1179.0 L116.4,1181.7 L118.8,1184.9 L121.0,1188.4 L123.1,1192.4 L125.1,1196.7 L127.0,1201.3 L128.7,1206.3 L130.3,1211.6 L131.8,1217.1 L133.1,1222.9 L134.3,1229.0 L135.2,1235.2 L136.0,1241.5 L136.7,1248.0 L137.1,1254.6 L137.4,1261.3 L137.5,1268.0 L137.4,1274.7 L137.1,1281.4 L136.7,1288.0 L136.0,1294.5 L135.2,1300.8 L134.3,1307.0 L133.1,1313.1 L131.8,1318.9 L130.3,1324.4 L128.7,1329.7 L127.0,1334.7 L125.1,1339.3 L123.1,1343.6 L121.0,1347.6 L118.8,1351.1 L116.4,1354.3 L114.0,1357.0 L111.6,1359.3 L109.1,1361.1 L106.5,1362.5" fill="none" stroke="#111" stroke-width="3.5" />
<ellipse cx="119.5" cy="1269.0" rx="9.0" ry="50.0" fill="#fff" stroke="#111" stroke-width="3" />
<ellipse cx="120.5" cy="1269.0" rx="5.5" ry="44.0" fill="none" stroke="#666" stroke-width="1.4" />
<path d="M616.0,1165.4 L620.0,1165.7 L623.9,1166.7 L627.8,1168.2 L631.6,1170.4 L635.4,1173.2 L639.0,1176.6 L642.4,1180.5 L645.7,1185.0 L648.9,1190.0 L651.8,1195.5 L654.5,1201.4 L656.9,1207.8 L659.1,1214.5 L661.1,1221.5 L662.7,1228.9 L664.1,1236.4 L665.2,1244.2 L666.0,1252.1 L666.4,1260.1 L666.6,1268.2 L666.4,1276.3 L666.0,1284.3 L665.2,1292.2 L664.1,1300.0 L662.7,1307.5 L661.1,1314.9 L659.1,1321.9 L656.9,1328.6 L654.5,1335.0 L651.8,1340.9 L648.9,1346.4 L645.7,1351.4 L642.4,1355.9 L639.0,1359.8 L635.4,1363.2 L631.6,1366.0 L627.8,1368.2 L623.9,1369.7 L620.0,1370.7 L616.0,1371.0" fill="none" stroke="#222" stroke-width="2.4" />
<line x1="562.5" y1="1165.4" x2="616.0" y2="1165.4" stroke="#333" stroke-width="2.4" />
<line x1="562.5" y1="1371.0" x2="616.0" y2="1371.0" stroke="#333" stroke-width="2.4" />
<ellipse cx="562.5" cy="1268.0" rx="52.3" ry="101.5" fill="#fff" stroke="#222" stroke-width="2.4" />
<ellipse cx="562.5" cy="1268.0" rx="47.8" ry="94.0" fill="none" stroke="#2a2a2a" stroke-width="6.5" stroke-dasharray="3 2.2"/>
<path d="M542.8,1349.2 L540.8,1346.8 L538.8,1344.1 L536.8,1341.2 L535.0,1338.1 L533.2,1334.7 L531.5,1331.2 L529.9,1327.5 L528.5,1323.6 L527.1,1319.6 L525.8,1315.4 L524.6,1311.0 L523.6,1306.6 L522.6,1302.0 L521.8,1297.3 L521.1,1292.6 L520.5,1287.8 L520.1,1282.9 L519.8,1277.9 L519.6,1273.0 L519.5,1268.0 L519.6,1263.0 L519.8,1258.1 L520.1,1253.1 L520.5,1248.2 L521.1,1243.4 L521.8,1238.7 L522.6,1234.0 L523.6,1229.4 L524.6,1225.0 L525.8,1220.6 L527.1,1216.4 L528.5,1212.4 L529.9,1208.5 L531.5,1204.8 L533.2,1201.3 L535.0,1197.9 L536.8,1194.8 L538.8,1191.9 L540.8,1189.2 L542.8,1186.8" fill="none" stroke="#111" stroke-width="11" />
<rect x="527.8" y="1324.1" width="4" height="6" fill="#fff"/>
<rect x="519.0" y="1288.8" width="4" height="6" fill="#fff"/>
<rect x="518.2" y="1249.0" width="4" height="6" fill="#fff"/>
<rect x="525.5" y="1212.2" width="4" height="6" fill="#fff"/>
<ellipse cx="564.5" cy="1268.0" rx="40.0" ry="91.0" fill="none" stroke="#111" stroke-width="2.6" />
<path d="M607.1,1280.8 L607.0,1281.8 L606.9,1282.7 L606.9,1283.7 L606.8,1284.6 L606.7,1285.6 L606.6,1286.5 L606.5,1287.4 L606.4,1288.4 L606.3,1289.3 L606.2,1290.3 L606.1,1291.2 L606.0,1292.1 L605.9,1293.0 L605.8,1294.0 L605.6,1294.9 L605.5,1295.8 L605.3,1296.7 L605.2,1297.6 L605.1,1298.6 L604.9,1299.5 L604.8,1300.4 L604.6,1301.3 L604.4,1302.2 L604.3,1303.1 L604.1,1303.9 L603.9,1304.8 L603.7,1305.7 L603.5,1306.6 L603.3,1307.5 L603.1,1308.3 L602.9,1309.2 L602.7,1310.1 L602.5,1310.9 L602.3,1311.8 L602.1,1312.6 L601.9,1313.4 L601.7,1314.3 L601.4,1315.1 L601.2,1315.9 L601.0,1316.8" fill="none" stroke="#111" stroke-width="13" />
<ellipse cx="564.0" cy="1267.5" rx="33.0" ry="72.5" fill="#fff" stroke="#111" stroke-width="4.5" />
<ellipse cx="561.0" cy="1267.5" rx="27.0" ry="62.5" fill="none" stroke="#111" stroke-width="2.6" />
<path d="M725.6,1364.2 L718.5,1357.7 L711.9,1349.5 L706.0,1339.6 L700.9,1328.3 L696.7,1315.9 L693.4,1302.4 L691.2,1288.2 L690.0,1273.6 L689.9,1258.8 L690.9,1244.1 L693.0,1229.9 L696.1,1216.3 L700.2,1203.6 L705.1,1192.1 L710.9,1182.0 L717.4,1173.5 L724.4,1166.7 L731.9,1161.8 L739.6,1158.9 L747.5,1158.0 L755.4,1159.2 L763.1,1162.3 L770.5,1167.5 L777.5,1174.5 L783.9,1183.2 L789.5,1193.5 L794.4,1205.1 L798.4,1217.9 L801.3,1231.6 L803.3,1246.0 L804.2,1260.7 L803.9,1275.4 L802.6,1290.0 L800.2,1304.1 L796.8,1317.5 L792.5,1329.8 L787.3,1341.0 L781.3,1350.6 L774.7,1358.7 L767.5,1364.9" fill="none" stroke="#333" stroke-width="2.0" />
<path d="M725.5,1352.5 L719.5,1346.1 L714.1,1338.3 L709.3,1329.2 L705.2,1318.8 L701.8,1307.5 L699.2,1295.4 L697.5,1282.7 L696.8,1269.7 L696.9,1256.6 L697.9,1243.7 L699.9,1231.2 L702.7,1219.3 L706.2,1208.2 L710.6,1198.1 L715.6,1189.3 L721.1,1181.9 L727.2,1176.1 L733.6,1171.8 L740.2,1169.3 L746.9,1168.5 L753.7,1169.5 L760.3,1172.3 L766.6,1176.7 L772.6,1182.8 L778.1,1190.4 L783.0,1199.4 L787.3,1209.5 L790.8,1220.7 L793.4,1232.7 L795.3,1245.3 L796.2,1258.3 L796.2,1271.4 L795.3,1284.4 L793.5,1297.0 L790.8,1309.0 L787.3,1320.2 L783.1,1330.4 L778.2,1339.4 L772.7,1347.0 L766.8,1353.2" fill="none" stroke="#555" stroke-width="1.8" />
<path d="M729.7,1339.6 L725.1,1334.0 L720.9,1327.2 L717.2,1319.3 L714.0,1310.3 L711.4,1300.6 L709.5,1290.2 L708.2,1279.3 L707.6,1268.2 L707.8,1257.0 L708.6,1246.0 L710.2,1235.3 L712.4,1225.1 L715.3,1215.7 L718.7,1207.2 L722.7,1199.7 L727.1,1193.4 L731.8,1188.4 L736.8,1184.8 L742.0,1182.7 L747.3,1182.0 L752.6,1182.9 L757.8,1185.2 L762.8,1189.0 L767.5,1194.2 L771.9,1200.6 L775.7,1208.2 L779.1,1216.9 L781.9,1226.4 L784.0,1236.6 L785.5,1247.4 L786.3,1258.5 L786.3,1269.6 L785.7,1280.7 L784.3,1291.5 L782.3,1301.9 L779.6,1311.5 L776.4,1320.3 L772.6,1328.2 L768.3,1334.8 L763.7,1340.2" fill="none" stroke="#333" stroke-width="2.0" />
<ellipse cx="727" cy="1356" rx="8" ry="11" transform="rotate(15 727 1356)" fill="#fff" stroke="#333" stroke-width="2"/>
<ellipse cx="727" cy="1356" rx="3.6" ry="6.1" transform="rotate(15 727 1356)" fill="none" stroke="#777" stroke-width="1.4"/>
<ellipse cx="765" cy="1356" rx="8" ry="11" transform="rotate(-15 765 1356)" fill="#fff" stroke="#333" stroke-width="2"/>
<ellipse cx="765" cy="1356" rx="3.6" ry="6.1" transform="rotate(-15 765 1356)" fill="none" stroke="#777" stroke-width="1.4"/>
<path d="M948.4,1198.7 L951.1,1198.9 L953.8,1199.5 L956.5,1200.6 L959.1,1202.1 L961.7,1203.9 L964.2,1206.2 L966.5,1208.8 L968.8,1211.8 L970.9,1215.1 L972.9,1218.7 L974.8,1222.7 L976.5,1226.9 L978.0,1231.4 L979.3,1236.1 L980.5,1241.0 L981.4,1246.0 L982.1,1251.2 L982.7,1256.4 L983.0,1261.8 L983.1,1267.2 L983.0,1272.5 L982.7,1277.9 L982.1,1283.1 L981.4,1288.3 L980.5,1293.3 L979.3,1298.2 L978.0,1302.9 L976.5,1307.4 L974.8,1311.6 L972.9,1315.6 L970.9,1319.2 L968.8,1322.5 L966.5,1325.5 L964.2,1328.1 L961.7,1330.4 L959.1,1332.2 L956.5,1333.7 L953.8,1334.8 L951.1,1335.4 L948.4,1335.6" fill="none" stroke="#333" stroke-width="2.0" />
<line x1="870.0" y1="1198.7" x2="948.4" y2="1198.7" stroke="#8a8a8a" stroke-width="2.4" />
<line x1="870.0" y1="1335.6" x2="948.4" y2="1335.6" stroke="#8a8a8a" stroke-width="2.4" />
<ellipse cx="870.0" cy="1267.0" rx="35.0" ry="68.5" fill="#fff" stroke="none" stroke-width="0" />
<path d="M834.2,1267.0 a35.8,69.3 0 1 0 71.6,0 a35.8,69.3 0 1 0 -71.6,0 Z M840.2,1267.0 a29.8,61.5 0 1 0 59.6,0 a29.8,61.5 0 1 0 -59.6,0 Z" fill="#111" fill-rule="evenodd" />
<ellipse cx="870.0" cy="1265.0" rx="32.1" ry="64.8" fill="none" stroke="#888" stroke-width="1.2" stroke-dasharray="30 60"/>
<path d="M1152.6,1166.0 L1156.5,1166.3 L1160.3,1167.3 L1164.1,1168.8 L1167.8,1171.0 L1171.4,1173.8 L1174.9,1177.1 L1178.3,1181.1 L1181.5,1185.5 L1184.6,1190.5 L1187.4,1195.9 L1190.0,1201.8 L1192.4,1208.1 L1194.5,1214.8 L1196.4,1221.8 L1198.1,1229.1 L1199.4,1236.6 L1200.4,1244.3 L1201.2,1252.2 L1201.6,1260.1 L1201.8,1268.2 L1201.6,1276.2 L1201.2,1284.1 L1200.4,1292.0 L1199.4,1299.7 L1198.1,1307.2 L1196.4,1314.5 L1194.5,1321.5 L1192.4,1328.2 L1190.0,1334.5 L1187.4,1340.4 L1184.6,1345.8 L1181.5,1350.8 L1178.3,1355.2 L1174.9,1359.2 L1171.4,1362.5 L1167.8,1365.3 L1164.1,1367.5 L1160.3,1369.0 L1156.5,1370.0 L1152.6,1370.3" fill="none" stroke="#222" stroke-width="2.4" />
<line x1="1096.8" y1="1166.0" x2="1152.6" y2="1166.0" stroke="#333" stroke-width="2.4" />
<line x1="1096.8" y1="1370.3" x2="1152.6" y2="1370.3" stroke="#333" stroke-width="2.4" />
<ellipse cx="1096.8" cy="1268.0" rx="52.7" ry="101.5" fill="#fff" stroke="#222" stroke-width="2.4" />
<ellipse cx="1096.8" cy="1268.0" rx="49.2" ry="95.5" fill="none" stroke="#2a2a2a" stroke-width="5" stroke-dasharray="2.5 2.2"/>
<ellipse cx="1096.8" cy="1268.0" rx="41.7" ry="93.0" fill="none" stroke="#111" stroke-width="3.6" />
<ellipse cx="1098.3" cy="1268.0" rx="36.5" ry="83.0" fill="none" stroke="#6a6a6a" stroke-width="8" stroke-dasharray="4 2.5"/>
<ellipse cx="1098.8" cy="1185.0" rx="7" ry="6" fill="#fff" stroke="#111" stroke-width="2.2"/>
<ellipse cx="1098.8" cy="1351.0" rx="7" ry="6" fill="#fff" stroke="#111" stroke-width="2.2"/>
<ellipse cx="1097.0" cy="1266.5" rx="31.0" ry="72.5" fill="none" stroke="#111" stroke-width="3.6" />
<ellipse cx="1094.0" cy="1267.5" rx="27.0" ry="63.5" fill="#fff" stroke="#111" stroke-width="2.6" />
<ellipse cx="1295.0" cy="1266.8" rx="56.0" ry="104.6" fill="#fff" stroke="#111" stroke-width="3" />
<path d="M1324.2,1176.2 L1326.7,1179.1 L1329.1,1182.2 L1331.4,1185.5 L1333.7,1189.1 L1335.8,1192.8 L1337.8,1196.8 L1339.7,1201.0 L1341.5,1205.3 L1343.2,1209.8 L1344.7,1214.5 L1346.1,1219.3 L1347.4,1224.3 L1348.5,1229.3 L1349.5,1234.5 L1350.3,1239.7 L1351.0,1245.1 L1351.5,1250.4 L1351.9,1255.9 L1352.1,1261.3 L1352.2,1266.8 L1352.1,1272.3 L1351.9,1277.7 L1351.5,1283.2 L1351.0,1288.5 L1350.3,1293.9 L1349.5,1299.1 L1348.5,1304.3 L1347.4,1309.3 L1346.1,1314.3 L1344.7,1319.1 L1343.2,1323.8 L1341.5,1328.3 L1339.7,1332.6 L1337.8,1336.8 L1335.8,1340.8 L1333.7,1344.5 L1331.4,1348.1 L1329.1,1351.4 L1326.7,1354.5 L1324.2,1357.4" fill="none" stroke="#111" stroke-width="3" />
<ellipse cx="1293.0" cy="1266.5" rx="42.4" ry="82.5" fill="none" stroke="#111" stroke-width="3" />
<ellipse cx="1292.0" cy="1267.0" rx="34.5" ry="69.5" fill="none" stroke="#555" stroke-width="5" stroke-dasharray="4 2"/>
<ellipse cx="1292.0" cy="1267.0" rx="31.5" ry="65.5" fill="none" stroke="#444" stroke-width="1.6" />
<ellipse cx="1291.8" cy="1268.0" rx="27.8" ry="60.6" fill="none" stroke="#111" stroke-width="2.6" />
<path d="M1493.7,1199.7 L1496.4,1199.9 L1499.0,1200.5 L1501.6,1201.6 L1504.1,1203.0 L1506.6,1204.9 L1509.0,1207.1 L1511.4,1209.7 L1513.6,1212.7 L1515.7,1216.0 L1517.6,1219.7 L1519.4,1223.6 L1521.0,1227.8 L1522.5,1232.2 L1523.8,1236.9 L1524.9,1241.8 L1525.8,1246.8 L1526.6,1251.9 L1527.1,1257.2 L1527.4,1262.5 L1527.5,1267.8 L1527.4,1273.2 L1527.1,1278.5 L1526.6,1283.8 L1525.8,1288.9 L1524.9,1293.9 L1523.8,1298.8 L1522.5,1303.5 L1521.0,1307.9 L1519.4,1312.1 L1517.6,1316.0 L1515.7,1319.7 L1513.6,1323.0 L1511.4,1326.0 L1509.0,1328.6 L1506.6,1330.8 L1504.1,1332.7 L1501.6,1334.1 L1499.0,1335.2 L1496.4,1335.8 L1493.7,1336.0" fill="none" stroke="#333" stroke-width="2.0" />
<line x1="1420.6" y1="1199.7" x2="1493.7" y2="1199.7" stroke="#333" stroke-width="2.4" />
<line x1="1420.6" y1="1336.0" x2="1493.7" y2="1336.0" stroke="#333" stroke-width="2.4" />
<ellipse cx="1420.6" cy="1268.0" rx="34.5" ry="69.0" fill="#fff" stroke="none" stroke-width="0" />
<ellipse cx="1420.6" cy="1268.0" rx="34.5" ry="69.0" fill="none" stroke="#111" stroke-width="2.6" />
<ellipse cx="1421.1" cy="1268.5" rx="31.0" ry="62.0" fill="none" stroke="#111" stroke-width="2.6" />
<!-- dashed boxes -->
<path class="dash" d="M0 210 H1573 V829 H0"/>
<path class="dash" d="M0 962 H1584 V1582 H0"/>

<!-- ROW 1 labels -->
<rect x="420" y="876" width="234" height="45" fill="#d8e4f4"/>
<text class="th d" transform="translate(421.0 0) scale(0.75 1)" x="0" y="911" textLength="308.0" lengthAdjust="spacing">4-FH-FWB3308</text>
<text class="t d" transform="translate(662.0 0) scale(0.8 1)" x="0" y="911" textLength="126.2" lengthAdjust="spacing">(4 pcs)</text>
<rect x="930" y="874" width="235" height="42" fill="#a4c2da"/>
<text class="th d" transform="translate(932.0 0) scale(0.75 1)" x="0" y="909" textLength="308.0" lengthAdjust="spacing">4-FH-FWB3308</text>
<text class="t d" transform="translate(1173.0 0) scale(0.8 1)" x="0" y="909" textLength="126.2" lengthAdjust="spacing">(4 pcs)</text>
<text class="t" style="font-size:41.5px" x="1340" y="912" textLength="197" lengthAdjust="spacingAndGlyphs">FH-FWB3302</text>
<text class="t" style="font-size:40px" x="1608" y="909.5" textLength="198" lengthAdjust="spacingAndGlyphs">FH-FWB3303</text>
<text class="t" style="font-size:37px" x="1635" y="495" textLength="190" lengthAdjust="spacingAndGlyphs">FH-N3WA30</text>
<text class="t" style="font-size:37px" x="1645" y="569" textLength="242" lengthAdjust="spacingAndGlyphs">(N3W <tspan class="b">d.30 mm</tspan>)</text>
<line class="ld" x1="1573" y1="518.5" x2="1900" y2="518.5" stroke-width="2.6"/>

<!-- ROW 2 labels -->
<rect x="349" y="1615" width="247" height="45" fill="#d8e4f4"/>
<text class="th d" style="font-size:41px" transform="translate(350.0 0) scale(0.75 1)" x="0" y="1652.7" textLength="325.3" lengthAdjust="spacing">4-FH-FWB3308</text>
<text class="t d" style="font-size:41px" transform="translate(604.0 0) scale(0.8 1)" x="0" y="1652.7" textLength="133.8" lengthAdjust="spacing">(4 pcs)</text>
<rect x="800" y="1622" width="249" height="44" fill="#a4c2da"/>
<text class="th d" style="font-size:41px" transform="translate(801.0 0) scale(0.75 1)" x="0" y="1657.4" textLength="328.0" lengthAdjust="spacing">4-FH-FWB3308</text>
<text class="t d" style="font-size:41px" transform="translate(1057.0 0) scale(0.8 1)" x="0" y="1657.4" textLength="131.2" lengthAdjust="spacing">(4 pcs)</text>
<text class="t" style="font-size:40px" x="1231" y="1652.4" textLength="209" lengthAdjust="spacingAndGlyphs">FH-FWB3302</text>
<text class="t" style="font-size:40px" x="1515" y="1652.4" textLength="207" lengthAdjust="spacingAndGlyphs">FH-FWB3303</text>
<text class="t" style="font-size:39.5px" x="1640" y="1238.8" textLength="200" lengthAdjust="spacingAndGlyphs">FH-N3WA33</text>
<text class="t" style="font-size:38px" x="1622" y="1304" textLength="241" lengthAdjust="spacingAndGlyphs">(N3W <tspan class="b">d.33 mm</tspan>)</text>
<line class="ld" x1="1577" y1="1253.5" x2="1863" y2="1253.5" stroke-width="2.6"/>
<text class="t" x="-2" y="1650" textLength="23" lengthAdjust="spacingAndGlyphs">01</text>

<!-- leader lines row 1 -->
<line class="ld" x1="593.5" y1="609" x2="593.5" y2="866"/>
<line class="ld" x1="1103" y1="590" x2="1103" y2="859"/>
<line class="ld" x1="1308.5" y1="607" x2="1474" y2="855"/>
<line class="ld" x1="1474.7" y1="570.6" x2="1686" y2="858"/>

<!-- leader lines row 2 -->
<line class="ld" x1="596" y1="1340" x2="530.5" y2="1600"/>
<line class="ld" x1="1107" y1="1364" x2="982" y2="1607"/>
<line class="ld" x1="1298" y1="1350" x2="1335" y2="1600"/>
<line class="ld" x1="1490" y1="1325" x2="1587" y2="1605"/>

</svg></div>
</body></html>
